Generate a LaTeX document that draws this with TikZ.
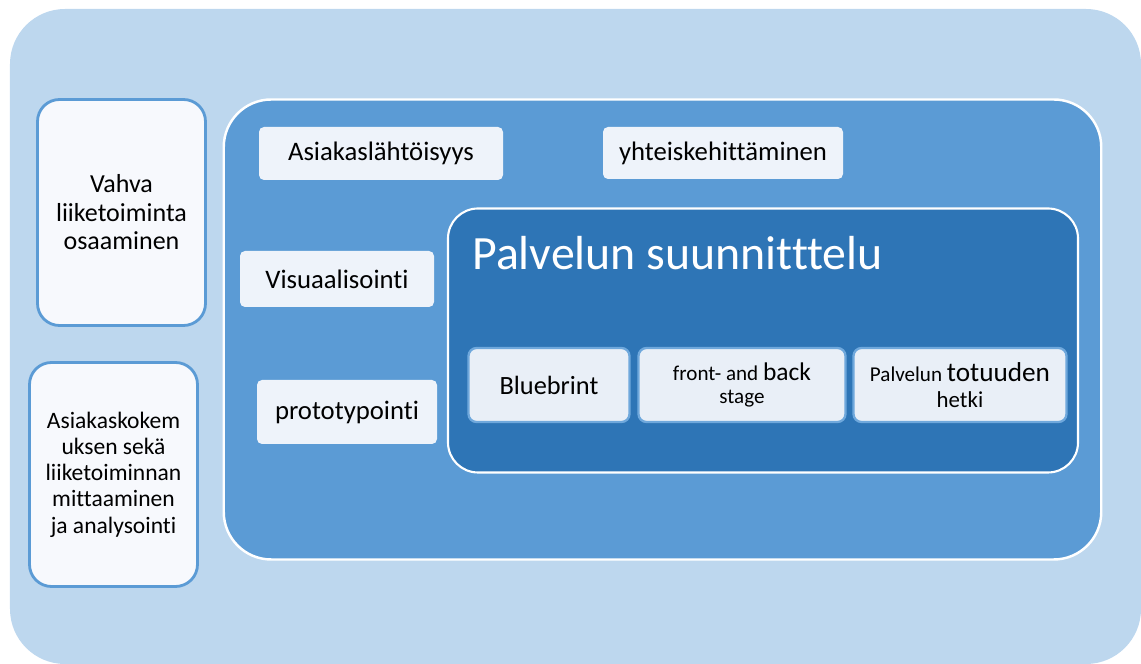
\documentclass[tikz,border=0pt]{standalone}
\usepackage{fontspec}
\setmainfont{Carlito}[Ligatures=NoCommon]
\usepackage{tikz}
\definecolor{sdpale}{RGB}{189,215,238}
\definecolor{sdmid}{RGB}{91,155,213}
\definecolor{sddark}{RGB}{46,117,182}
\definecolor{sdcard}{RGB}{238,243,250}
\definecolor{sdcard2}{RGB}{233,239,247}
\definecolor{sdside}{RGB}{247,249,253}
\definecolor{sdedge}{RGB}{111,168,220}
\tikzset{
  sidebox/.style={draw=sdmid, line width=1.6pt, fill=sdside, rounded corners=0.44cm, minimum width=3.36cm, align=center},
  ideabox/.style={fill=sdcard, rounded corners=0.1cm, font=\fontsize{15.2}{18}\selectfont},
  stagebox/.style={draw=sdedge, line width=1.3pt, fill=sdcard2, rounded corners=0.16cm, minimum height=1.48cm, align=center},
}

\begin{document}
\begin{tikzpicture}
\useasboundingbox (0,0) rectangle (22.82,13.28);
% Background panel
\fill[sdpale, rounded corners=1.1cm] (0.2,0) rectangle (22.82,13.1);
% Left: side boxes
\node[sidebox, minimum height=4.52cm, font=\fontsize{14.8}{16.2}\selectfont] (vahva) at (2.43,9.03) {Vahva\\liiketoiminta\\osaaminen};
\node[sidebox, minimum height=4.48cm, font=\fontsize{13.4}{14.9}\selectfont] (mittaus) at (2.27,3.79) {Asiakaskokem\\uksen sekä\\liiketoiminnan\\mittaaminen\\ja analysointi};
% Middle panel
\node[draw=white, line width=1.4pt, fill=sdmid, rounded corners=0.95cm, minimum width=17.55cm, minimum height=9.2cm] (menetelmat) at (13.25,6.69) {};
\node[ideabox, minimum width=4.88cm, minimum height=1.06cm] (asiakas) at (7.62,10.21) {Asiakaslähtöisyys};
\node[ideabox, minimum width=4.80cm, minimum height=1.04cm] (yhteis) at (14.46,10.22) {yhteiskehittäminen};
\node[ideabox, minimum width=3.88cm, minimum height=1.12cm] (visu) at (6.74,7.70) {Visuaalisointi};
\node[ideabox, minimum width=3.60cm, minimum height=1.28cm] (proto) at (6.94,5.04) {prototypointi};
% Inner panel: service design
\node[draw=white, line width=1.2pt, fill=sddark, rounded corners=0.6cm, minimum width=12.6cm, minimum height=5.28cm] (suunnittelu) at (15.26,6.47) {};
\node[anchor=base west, white, inner sep=0pt, font=\fontsize{27.2}{30}\selectfont] (otsikko) at (9.44,7.88) {Palvelun suunnitttelu};
\node[stagebox, minimum width=3.22cm, font=\fontsize{15}{18}\selectfont] (blue) at (10.98,5.58) {Bluebrint};
\node[stagebox, minimum width=4.14cm, font=\fontsize{12}{13.6}\selectfont] (stage) at (14.84,5.58) {front- and {\fontsize{14.5}{13.6}\selectfont back}\\stage};
\node[stagebox, minimum width=4.26cm, font=\fontsize{12}{14.7}\selectfont] (hetki) at (19.20,5.58) {Palvelun {\fontsize{15.5}{14.7}\selectfont totuuden}\\{\fontsize{13}{14.7}\selectfont hetki}};
\end{tikzpicture}
\end{document}
